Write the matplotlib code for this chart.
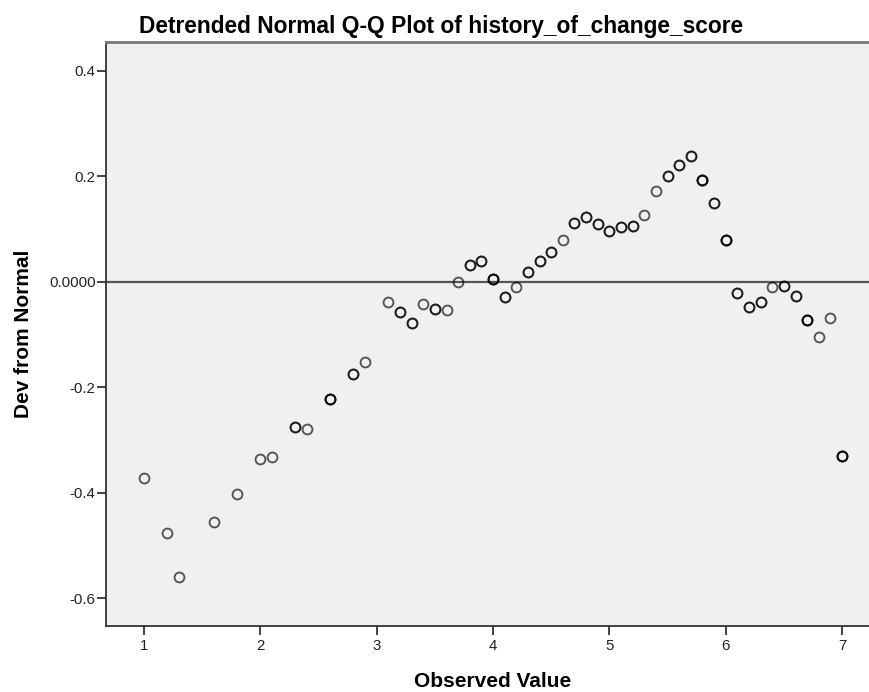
import matplotlib
matplotlib.use('Agg')
import matplotlib.pyplot as plt
from matplotlib.ticker import FuncFormatter

plt.rcParams['font.family'] = ['Liberation Sans', 'DejaVu Sans']

observed = [1.0, 1.2, 1.3, 1.6, 1.8, 2.0, 2.1, 2.3, 2.4, 2.6, 2.8, 2.9,
            3.1, 3.2, 3.3, 3.4, 3.5, 3.6, 3.7, 3.8, 3.9, 4.0, 4.1, 4.2,
            4.3, 4.4, 4.5, 4.6, 4.7, 4.8, 4.9, 5.0, 5.1, 5.2, 5.3, 5.4,
            5.5, 5.6, 5.7, 5.8, 5.9, 6.0, 6.1, 6.2, 6.3, 6.4, 6.5, 6.6,
            6.7, 6.8, 6.9, 7.0]
dev = [-0.373, -0.477, -0.560, -0.456, -0.403, -0.336, -0.332, -0.275,
       -0.280, -0.223, -0.174, -0.153, -0.039, -0.058, -0.078, -0.042,
       -0.052, -0.054, -0.001, 0.032, 0.039, 0.005, -0.028, -0.009,
       0.018, 0.040, 0.056, 0.080, 0.112, 0.123, 0.110, 0.097, 0.104,
       0.105, 0.127, 0.173, 0.201, 0.221, 0.239, 0.194, 0.149, 0.080,
       -0.022, -0.047, -0.038, -0.009, -0.008, -0.026, -0.073, -0.104,
       -0.069, -0.330]
# how many cases sit on each point (darker rings = repeated values)
cases = [1, 1, 1, 1, 1, 1, 1, 2, 1, 3, 2, 1,
         1, 2, 2, 1, 2, 1, 1, 2, 2, 3, 2, 1,
         2, 2, 2, 1, 2, 2, 2, 2, 2, 2, 1, 1,
         2, 2, 2, 3, 2, 3, 2, 2, 2, 1, 2, 2,
         3, 1, 1, 3]

yticks = [0.4, 0.2, 0.0, -0.2, -0.4, -0.6]
xticks = [1, 2, 3, 4, 5, 6, 7]

W, H = 870, 692
fig = plt.figure(figsize=(W / 100, H / 100), dpi=100)
ax = fig.add_axes([106 / W, 1 - 626 / H, 1 - 106 / W, (626 - 42) / H])
ax.set_facecolor('#f0f0f0')

ax.axhline(0, color='#555555', lw=1.6, zorder=1)

for k in range(1, 4):
    xs = [x for x, c in zip(observed, cases) if c >= k]
    ys = [y for y, c in zip(dev, cases) if c >= k]
    ax.plot(xs, ys, 'o', ls='none', ms=7.1, mfc='none', mec='#000000',
            mew=1.35, alpha=0.65, zorder=2)

ax.set_xlim(0.673, 7.24)
ax.set_ylim(-0.653, 0.455)
ax.set_xticks(xticks)
ax.set_yticks(yticks)
ax.yaxis.set_major_formatter(FuncFormatter(
    lambda v, p: '0.0000' if abs(v) < 1e-9 else f'{v:.1f}'))

for s in ['left', 'bottom']:
    ax.spines[s].set_color('#333333')
    ax.spines[s].set_linewidth(1.3)
ax.spines['top'].set_color('#777777')
ax.spines['top'].set_linewidth(2)
ax.spines['right'].set_visible(False)
ax.tick_params(direction='out', length=6.5, width=1.3, color='#333333',
               labelsize=10.8, labelcolor='#222222')
ax.tick_params(axis='x', pad=3)
ax.tick_params(axis='y', pad=1)

fig.text(493 / W, 1 - 687 / H, 'Observed Value', ha='center', va='baseline',
         fontsize=15, fontweight='bold')
fig.text(23.5 / W, 1 - 334 / H, 'Dev from Normal', ha='center', va='center',
         rotation=90, fontsize=15, fontweight='bold')
fig.text(441 / W, 1 - 33 / H, 'Detrended Normal Q-Q Plot of history_of_change_score',
         ha='center', va='baseline', fontsize=16.4, fontweight='bold')

fig.savefig('out.png', dpi=100)
